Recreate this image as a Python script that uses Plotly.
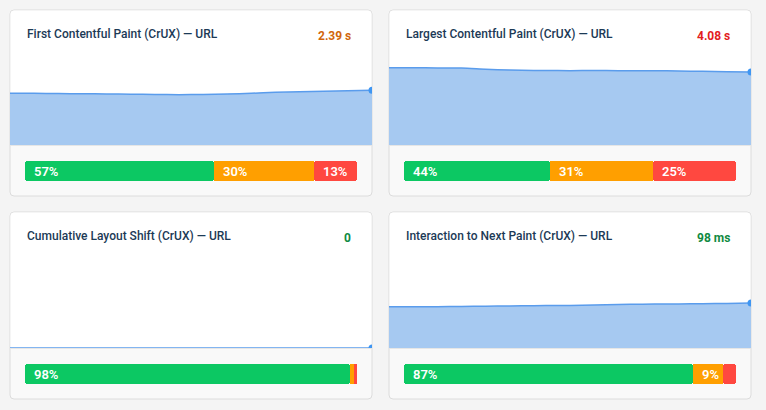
import plotly.graph_objects as go

# ---------------- data ----------------
weeks = list(range(16))

titles = [
    "First Contentful Paint (CrUX) — URL",
    "Largest Contentful Paint (CrUX) — URL",
    "Cumulative Layout Shift (CrUX) — URL",
    "Interaction to Next Paint (CrUX) — URL",
]
value_labels = ["2.39 s", "4.08 s", "0", "98 ms"]

fcp_series = [2.26, 2.26, 2.25, 2.24, 2.23, 2.22, 2.21, 2.20, 2.21, 2.23, 2.26, 2.30, 2.33, 2.35, 2.37, 2.39]
lcp_series = [4.32, 4.32, 4.31, 4.30, 4.24, 4.19, 4.17, 4.16, 4.16, 4.16, 4.15, 4.15, 4.14, 4.12, 4.10, 4.08]
cls_series = [0, 0, 0, 0, 0, 0, 0, 0, 0, 0, 0, 0, 0, 0, 0, 0]
inp_series = [90, 90, 90, 90.5, 91, 91.5, 92, 92.5, 93, 94, 95, 95.5, 96, 96.5, 97, 98]

fcp_dist = [57, 30, 13]
lcp_dist = [44, 31, 25]
cls_dist = [98, 1, 1]
inp_dist = [87, 9, 4]

# ---------------- styling ----------------
W, H = 766, 410
PAGE_BG = "#f4f4f4"
FOOTER_BG = "#f9f9f9"
BORDER = "#dcdcdc"
LINE_C = "#5a9cec"
FILL_C = "#a6c9f1"
DOT_C = "#3f96f2"
GOOD, AVG, POOR = "#0cc863", "#ff9f00", "#ff4840"
TITLE_C = "#1c3a56"
VALUE_COLORS = ["#d1660c", "#e3201c", "#108a42", "#108a42"]

series_list = [fcp_series, lcp_series, cls_series, inp_series]
dist_list = [fcp_dist, lcp_dist, cls_dist, inp_dist]
y_tops = [5.9, 7.55, 1.0, 296]

# card geometry in pixels: (x0, y0, x1, y1, separator_y)
cards = [
    (10, 10, 372, 196, 145),
    (389, 10, 751, 196, 145),
    (10, 212, 372, 399, 348),
    (389, 212, 751, 399, 348),
]


def px(x):
    return x / W


def py(y):
    return 1 - y / H


def rpath(x0, y0, x1, y1, r, top=True, bottom=True):
    rt = r if top else 0
    rb = r if bottom else 0
    return (
        f"M {px(x0 + rt)},{py(y0)} L {px(x1 - rt)},{py(y0)} "
        f"Q {px(x1)},{py(y0)} {px(x1)},{py(y0 + rt)} "
        f"L {px(x1)},{py(y1 - rb)} Q {px(x1)},{py(y1)} {px(x1 - rb)},{py(y1)} "
        f"L {px(x0 + rb)},{py(y1)} Q {px(x0)},{py(y1)} {px(x0)},{py(y1 - rb)} "
        f"L {px(x0)},{py(y0 + rt)} Q {px(x0)},{py(y0)} {px(x0 + rt)},{py(y0)} Z"
    )


fig = go.Figure()
shapes = []
annotations = []
layout_axes = {}

for i, (x0, y0, x1, y1, sep) in enumerate(cards):
    # card background + border
    shapes.append(dict(type="path", xref="paper", yref="paper", layer="below",
                       path=rpath(x0, y0, x1, y1, 4),
                       fillcolor=FOOTER_BG, line=dict(color=BORDER, width=1)))
    shapes.append(dict(type="path", xref="paper", yref="paper", layer="below",
                       path=rpath(x0 + 0.5, y0 + 0.5, x1 - 0.5, sep, 3.5, top=True, bottom=False),
                       fillcolor="white", line=dict(width=0)))
    shapes.append(dict(type="line", xref="paper", yref="paper", layer="below",
                       x0=px(x0), x1=px(x1), y0=py(sep + 0.5), y1=py(sep + 0.5),
                       line=dict(color="#e6e6e6", width=1)))

    a = i + 1          # area subplot index
    b = i + 5          # bar subplot index
    vals = series_list[i]

    # area chart
    fig.add_trace(go.Scatter(
        x=weeks, y=vals, mode="lines", fill="tozeroy",
        line=dict(color=LINE_C, width=1.5, shape="spline", smoothing=0.8), fillcolor=FILL_C,
        xaxis=f"x{a}", yaxis=f"y{a}", hoverinfo="skip", showlegend=False))
    fig.add_trace(go.Scatter(
        x=[weeks[-1]], y=[vals[-1]], mode="markers",
        marker=dict(color=DOT_C, size=7),
        xaxis=f"x{a}", yaxis=f"y{a}", hoverinfo="skip", showlegend=False))
    layout_axes[f"xaxis{a}"] = dict(domain=[px(x0), px(x1)], range=[weeks[0], weeks[-1]],
                                    visible=False, fixedrange=True, anchor=f"y{a}")
    layout_axes[f"yaxis{a}"] = dict(domain=[py(sep), py(y0)], range=[0, y_tops[i]],
                                    visible=False, fixedrange=True, anchor=f"x{a}")

    # distribution bar
    g, o, r = dist_list[i]
    bx0, bx1 = x0 + 15, x1 - 15
    by0, by1 = sep + 16, sep + 36
    fig.add_trace(go.Bar(
        y=[0], x=[-g], base=[g], orientation="h",
        marker=dict(color=GOOD, line=dict(width=0), cornerradius=3),
        xaxis=f"x{b}", yaxis=f"y{b}", hoverinfo="skip", showlegend=False))
    fig.add_trace(go.Bar(
        y=[0], x=[o], base=[g], orientation="h",
        marker=dict(color=AVG, line=dict(width=0)),
        xaxis=f"x{b}", yaxis=f"y{b}", hoverinfo="skip", showlegend=False))
    fig.add_trace(go.Bar(
        y=[0], x=[r], base=[g + o], orientation="h",
        marker=dict(color=POOR, line=dict(width=0), cornerradius=3),
        xaxis=f"x{b}", yaxis=f"y{b}", hoverinfo="skip", showlegend=False))
    layout_axes[f"xaxis{b}"] = dict(domain=[px(bx0), px(bx1)], range=[0, sum(dist_list[i])],
                                    visible=False, fixedrange=True, anchor=f"y{b}")
    layout_axes[f"yaxis{b}"] = dict(domain=[py(by1), py(by0)], range=[-0.5, 0.5],
                                    visible=False, fixedrange=True, anchor=f"x{b}")

    starts = [0, g, g + o]
    for pct, st in zip(dist_list[i], starts):
        if pct >= 5:
            annotations.append(dict(
                xref=f"x{b}", yref=f"y{b}", x=st, y=0, xanchor="left", yanchor="middle",
                xshift=7, showarrow=False, text=f"{pct}%",
                font=dict(family="Roboto", size=13, color="white", weight=600)))

    # title and headline value
    annotations.append(dict(
        xref="paper", yref="paper", x=px(x0 + 15), y=py(y0 + 24.5), xanchor="left", yanchor="middle",
        showarrow=False, text=titles[i],
        font=dict(family="Roboto", size=12, color=TITLE_C, weight=500)))
    annotations.append(dict(
        xref="paper", yref="paper", x=px(x1 - 19), y=py(y0 + 26), xanchor="right", yanchor="middle",
        showarrow=False, text=value_labels[i],
        font=dict(family="Roboto", size=12, color=VALUE_COLORS[i], weight=700)))

fig.update_layout(
    width=W, height=H, autosize=False,
    margin=dict(l=0, r=0, t=0, b=0, pad=0),
    paper_bgcolor=PAGE_BG, plot_bgcolor="rgba(0,0,0,0)",
    barmode="overlay", bargap=0,
    shapes=shapes, annotations=annotations,
    font=dict(family="Roboto"),
    **layout_axes,
)

fig.write_html(
    "out.html",
    config={"displayModeBar": False},
    post_script="document.body.style.margin='0';document.body.style.background='#f4f4f4';",
)
